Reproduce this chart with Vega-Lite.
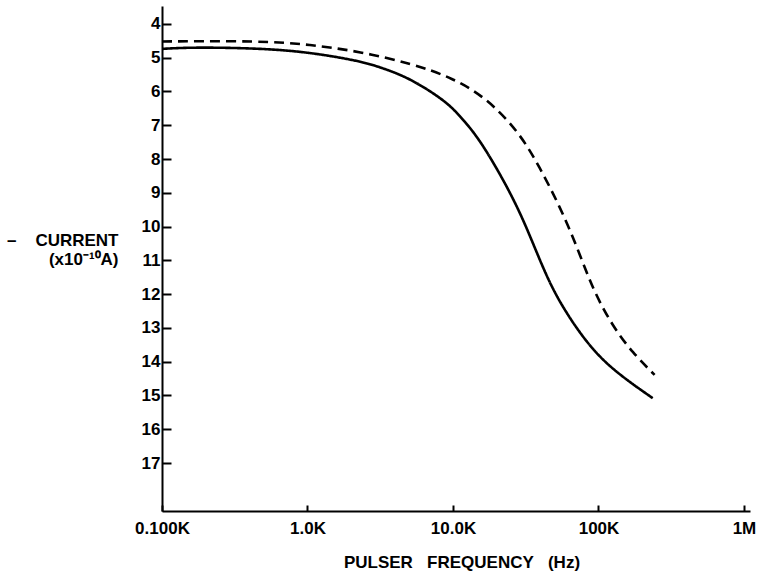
{
  "$schema": "https://vega.github.io/schema/vega-lite/v6.json",
  "width": 588,
  "height": 505,
  "autosize": {"type": "none"},
  "padding": {"left": 162, "top": 6, "right": 7, "bottom": 60},
  "background": "white",
  "config": {
    "view": {"stroke": null},
    "font": "Liberation Sans",
    "axis": {
      "domainColor": "black",
      "domainWidth": 2,
      "tickColor": "black",
      "tickWidth": 2,
      "labelColor": "black",
      "labelFont": "Liberation Sans",
      "labelFontWeight": "bold",
      "titleColor": "black",
      "titleFont": "Liberation Sans",
      "titleFontWeight": "bold",
      "grid": false
    }
  },
  "data": {
    "values": [
      {"freq": 100, "current": 4.74, "curve": "solid"},
      {"freq": 160, "current": 4.69, "curve": "solid"},
      {"freq": 470, "current": 4.72, "curve": "solid"},
      {"freq": 1040, "current": 4.84, "curve": "solid"},
      {"freq": 2300, "current": 5.1, "curve": "solid"},
      {"freq": 3150, "current": 5.28, "curve": "solid"},
      {"freq": 5050, "current": 5.6, "curve": "solid"},
      {"freq": 9000, "current": 6.3, "curve": "solid"},
      {"freq": 11000, "current": 6.7, "curve": "solid"},
      {"freq": 15300, "current": 7.4, "curve": "solid"},
      {"freq": 25700, "current": 9.1, "curve": "solid"},
      {"freq": 33700, "current": 10.25, "curve": "solid"},
      {"freq": 44100, "current": 11.5, "curve": "solid"},
      {"freq": 56800, "current": 12.4, "curve": "solid"},
      {"freq": 83000, "current": 13.45, "curve": "solid"},
      {"freq": 125000, "current": 14.25, "curve": "solid"},
      {"freq": 236000, "current": 15.08, "curve": "solid"},
      {"freq": 100, "current": 4.52, "curve": "dashed"},
      {"freq": 471, "current": 4.5, "curve": "dashed"},
      {"freq": 1040, "current": 4.61, "curve": "dashed"},
      {"freq": 2300, "current": 4.82, "curve": "dashed"},
      {"freq": 5270, "current": 5.18, "curve": "dashed"},
      {"freq": 9970, "current": 5.6, "curve": "dashed"},
      {"freq": 17100, "current": 6.2, "curve": "dashed"},
      {"freq": 28800, "current": 7.23, "curve": "dashed"},
      {"freq": 39500, "current": 8.25, "curve": "dashed"},
      {"freq": 54200, "current": 9.4, "curve": "dashed"},
      {"freq": 72000, "current": 10.65, "curve": "dashed"},
      {"freq": 91200, "current": 11.85, "curve": "dashed"},
      {"freq": 125000, "current": 12.95, "curve": "dashed"},
      {"freq": 172000, "current": 13.74, "curve": "dashed"},
      {"freq": 243000, "current": 14.39, "curve": "dashed"}
    ]
  },
  "mark": {"type": "line", "interpolate": "basis", "color": "black", "strokeWidth": 2.6},
  "encoding": {
    "x": {
      "field": "freq",
      "type": "quantitative",
      "scale": {"type": "log", "domain": [100, 1100000], "nice": false},
      "axis": {
        "values": [100, 1000, 10000, 100000, 1000000],
        "labelExpr": "datum.value == 100 ? '0.100K' : datum.value == 1000 ? '1.0K' : datum.value == 10000 ? '10.0K' : datum.value == 100000 ? '100K' : '1M'",
        "tickSize": -6,
        "labelPadding": 15,
        "labelFontSize": 17,
        "labelFlush": false,
        "title": "PULSER\u00a0\u00a0\u00a0FREQUENCY\u00a0\u00a0\u00a0(Hz)",
        "titleFontSize": 17,
        "titleAnchor": "start",
        "titleAlign": "center",
        "titleX": 299.5,
        "titleY": 56,
        "titleBaseline": "alphabetic"
      }
    },
    "y": {
      "field": "current",
      "type": "quantitative",
      "scale": {"domain": [3.47, 18.42], "reverse": true, "nice": false, "zero": false},
      "axis": {
        "values": [4, 5, 6, 7, 8, 9, 10, 11, 12, 13, 14, 15, 16, 17],
        "tickSize": -9,
        "labelPadding": 11,
        "labelFontSize": 17,
        "title": ["–\u00a0\u00a0\u00a0\u00a0CURRENT", "(x10⁻¹⁰A)"],
        "titleFontSize": 17,
        "titleAngle": 0,
        "titleAlign": "right",
        "titleBaseline": "alphabetic",
        "titleX": -44,
        "titleY": 239,
        "titleLineHeight": 19
      }
    },
    "strokeDash": {
      "field": "curve",
      "type": "nominal",
      "scale": {"domain": ["solid", "dashed"], "range": [[1, 0], [10, 6]]},
      "legend": null
    }
  }
}
